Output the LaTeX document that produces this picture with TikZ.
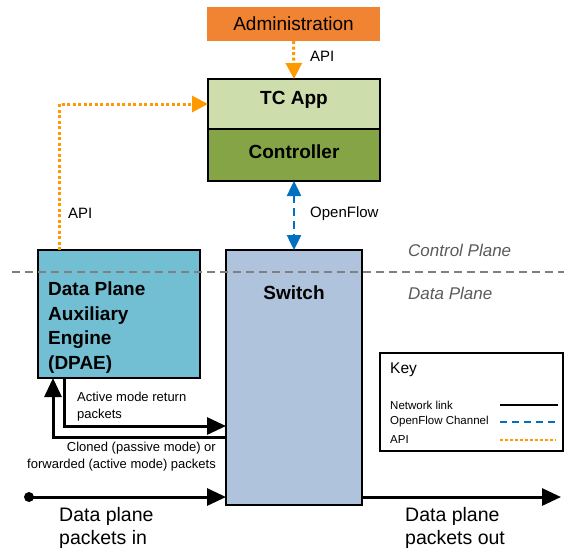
\documentclass[tikz,border=0pt]{standalone}
\usepackage{fontspec}
\setmainfont{Liberation Sans}
\usetikzlibrary{arrows.meta,positioning,calc}

\definecolor{adminorange}{RGB}{240,132,50}
\definecolor{appgreen}{RGB}{205,221,171}
\definecolor{ctrlgreen}{RGB}{132,164,70}
\definecolor{dpaeblue}{RGB}{114,191,211}
\definecolor{switchblue}{RGB}{176,195,221}
\definecolor{apiorange}{RGB}{255,153,0}
\definecolor{ofblue}{RGB}{0,112,192}
\definecolor{planegray}{RGB}{128,128,128}
\definecolor{planetext}{RGB}{90,90,90}

\tikzset{
  box/.style={draw=black, line width=2pt, inner sep=0pt, outer sep=0pt},
  bigbold/.style={font=\fontsize{19}{24.5}\selectfont\bfseries},
  lbl/.style={font=\fontsize{15}{18}\selectfont, inner sep=0pt},
  small/.style={font=\fontsize{13}{17}\selectfont, inner sep=0pt},
  keytext/.style={font=\fontsize{11.5}{14}\selectfont, inner sep=0pt, anchor=west},
  plane/.style={font=\fontsize{17}{20}\selectfont\itshape, text=planetext, inner sep=0pt, anchor=west},
  packets/.style={font=\fontsize{19.5}{23}\selectfont, inner sep=0pt, align=left, anchor=north west},
  net/.style={line width=3pt, draw=black},
  netarrow/.style={net, -{Triangle[length=19pt,width=17pt]}},
  api/.style={line width=3pt, draw=apiorange, dash pattern=on 3pt off 2.5pt},
  apiarrow/.style={api, -{Triangle[length=16pt,width=16pt,fill=apiorange]}},
  openflow/.style={line width=2.5pt, draw=ofblue, dash pattern=on 8pt off 5pt},
  ofarrows/.style={openflow, {Triangle[length=15pt,width=14pt,fill=ofblue]}-{Triangle[length=15pt,width=14pt,fill=ofblue]}}
}

\begin{document}
\begin{tikzpicture}[x=1pt,y=-1pt]
\useasboundingbox (0,0) rectangle (564,550);

% management and control components
\node[fill=adminorange, minimum width=173pt, minimum height=34pt, inner sep=0pt,
      font=\fontsize{19}{22}\selectfont] (admin) at (293.5,24) {Administration};
\node[box, fill=appgreen, minimum width=172pt, minimum height=50pt] (tcapp) at (294,104) {};
\node[bigbold, inner sep=0pt] (tcapptxt) at (294,100) {TC App};
\node[box, fill=ctrlgreen, minimum width=172pt, minimum height=52pt] (ctrl) at (294,155) {};
\node[bigbold, inner sep=0pt] (ctrltxt) at (294,152) {Controller};

% data plane components
\node[box, fill=dpaeblue, minimum width=162pt, minimum height=128pt] (dpae) at (119,314) {};
\node[bigbold, align=left, anchor=north west, inner sep=0pt] (dpaetxt) at (48,282)
  {Data Plane\\Auxiliary\\Engine\\(DPAE)};
\node[box, fill=switchblue, minimum width=136pt, minimum height=255pt] (switch) at (294,377.5) {};
\node[bigbold, inner sep=0pt] (switchtxt) at (294,293) {Switch};

% boundary between control and data plane
\coordinate (planeL) at (12,272);
\coordinate (planeR) at (564,272);
\draw[planegray, line width=2pt, dash pattern=on 8pt off 5pt] (planeL) -- (planeR);
\node[plane] (cplane) at (408,250) {Control Plane};
\node[plane] (dplane) at (408,293) {Data Plane};

% API links
\draw[apiarrow] (admin.south) -- (tcapp.north);
\node[lbl, anchor=west] (apiadmin) at (310,56) {API};
\coordinate (dpaeapi) at ($(dpae.north west)+(21,0)$);
\draw[apiarrow] (dpaeapi) |- (tcapp.west);
\node[lbl, anchor=west] (apidpae) at (68,213) {API};

% OpenFlow channel
\draw[ofarrows] (ctrl.south) -- (switch.north);
\node[lbl, anchor=west] (oflbl) at (310,214) {OpenFlow};

% packets between switch and DPAE
\coordinate (retstart) at ($(dpae.south west)+(26,0)$);
\coordinate (retend) at ($(switch.west)+(0,48.5)$);
\draw[netarrow] (retstart) |- (retend);
\node[small, align=left, anchor=north west] (retlbl) at (77,392) {Active mode return\\packets};

\coordinate (clonestart) at ($(switch.west)+(0,59.5)$);
\coordinate (cloneend) at ($(dpae.south west)+(15,0)$);
\draw[netarrow] (clonestart) -| (cloneend);
\node[small, align=right, anchor=north east] (clonelbl) at (216,442) {Cloned (passive mode) or\\forwarded (active mode) packets};

% data plane traffic through the switch
\coordinate (src) at (29,497);
\coordinate (sink) at (561,497);
\fill (src) circle (5pt);
\draw[netarrow] (src) -- (src -| switch.west);
\draw[netarrow] (src -| switch.east) -- (sink);
\node[packets] (inlbl) at (59,507) {Data plane\\packets in};
\node[packets] (outlbl) at (405,507) {Data plane\\packets out};

% legend
\node[draw=black, line width=2pt, minimum width=183pt, minimum height=98pt, inner sep=0pt] (key) at (471.5,402) {};
\node[font=\fontsize{15.5}{18}\selectfont, inner sep=0pt, anchor=west] (keytitle) at (390,370) {Key};
\node[keytext] (knet) at (390,405) {Network link};
\node[keytext] (kof) at (390,422) {OpenFlow Channel};
\node[keytext] (kapi) at (390,440) {API};
\coordinate (knetA) at (500,405);
\coordinate (knetB) at (558,405);
\coordinate (kofA) at (500,422);
\coordinate (kofB) at (558,422);
\coordinate (kapiA) at (500,440);
\coordinate (kapiB) at (556,440);
\draw[line width=2.5pt] (knetA) -- (knetB);
\draw[line width=2.2pt, draw=ofblue, dash pattern=on 7pt off 5pt] (kofA) -- (kofB);
\draw[line width=2.5pt, draw=apiorange, dash pattern=on 3pt off 2pt] (kapiA) -- (kapiB);
\end{tikzpicture}
\end{document}
